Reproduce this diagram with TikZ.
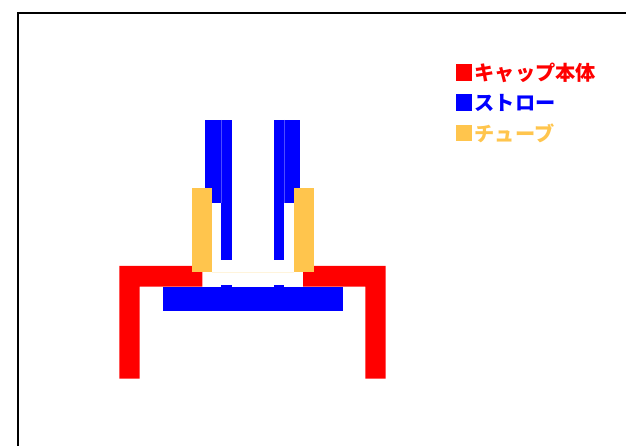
\documentclass[tikz,border=0pt]{standalone}
\usepackage{fontspec}
\newfontfamily\cjk{Noto Sans CJK JP}
\usepackage{tikz}
\usetikzlibrary{positioning}
\definecolor{capred}{HTML}{FF0000}
\definecolor{strawblue}{HTML}{0000FF}
\definecolor{tubeyellow}{HTML}{FFC54D}

\begin{document}
\begin{tikzpicture}[
    x=1pt, y=-1pt,
    capbody/.style={fill=capred},
    straw/.style={fill=strawblue},
    tube/.style={fill=tubeyellow},
    seam/.style={strawblue!70!white, line width=0.4pt},
    swatch/.style={minimum size=16.4pt, inner sep=0pt, outer sep=0pt, anchor=north west},
    legendtext/.style={font=\cjk\bfseries\fontsize{20.2}{20.2}\selectfont, inner sep=0pt, outer sep=0pt, right=2.5pt of #1},
    node distance=3pt
]
    \useasboundingbox (0,0) rectangle (626,446);
    \draw[black, line width=2pt] (18,446) -- (18,13) -- (626,13);

    % cap body
    \fill[capbody] (119.3,378.6) -- (119.3,266) -- (202.3,266) -- (202.3,286.7)
        -- (139.7,286.7) -- (139.7,378.6) -- cycle;
    \fill[capbody] (385.7,378.6) -- (385.7,266) -- (303,266) -- (303,286.7)
        -- (365.3,286.7) -- (365.3,378.6) -- cycle;

    % straw
    \fill[straw] (162.7,287) rectangle (342.7,311.3);
    \fill[straw] (221.3,285) rectangle (231.7,288);
    \fill[straw] (273.7,285) rectangle (283.7,288);
    \fill[straw] (221.3,120) rectangle (231.7,260.3);
    \fill[straw] (273.7,120) rectangle (283.7,260.3);
    \fill[straw] (205.3,120) rectangle (221.3,203);
    \fill[straw] (283.7,120) rectangle (300,203);
    \draw[seam] (221.3,120) -- (221.3,203);
    \draw[seam] (283.7,120) -- (283.7,203);

    % tube
    \fill[tube] (191.7,188) rectangle (211.7,272.3);
    \fill[tube] (293.7,188) rectangle (313.7,272.3);
    \draw[tubeyellow!20, line width=0.5pt] (211.7,272.1) -- (293.7,272.1);

    % legend
    \node[swatch, fill=capred] (capkey) at (455.7,64.3) {};
    \node[swatch, fill=strawblue] (strawkey) at (455.7,94.5) {};
    \node[swatch, fill=tubeyellow] (tubekey) at (455.7,124.8) {};
    \node[legendtext=capkey, text=capred] (caplabel) {キャップ本体};
    \node[legendtext=strawkey, text=strawblue] (strawlabel) {ストロー};
    \node[legendtext=tubekey, text=tubeyellow] (tubelabel) {チューブ};
\end{tikzpicture}
\end{document}
